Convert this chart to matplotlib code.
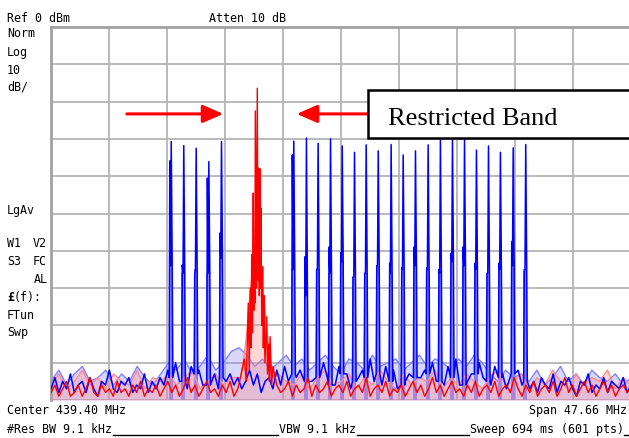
import numpy as np
import matplotlib.pyplot as plt
from matplotlib.patches import Rectangle

# sweep settings (Center 439.40 MHz, Span 47.66 MHz)
FREQ_START = 415.57
FREQ_STOP = 463.23

# blue trace: channel spikes
BLUE_FREQS = [425.41, 426.44, 427.46, 428.50, 429.54, 435.48, 436.52, 437.48, 438.50,
              439.46, 440.47, 441.43, 442.42, 443.48, 444.47, 445.48, 446.52, 447.53,
              448.52, 449.51, 450.49, 451.48, 452.46, 453.51, 454.54]
BLUE_PEAK = [-30.7, -31.8, -32.5, -36.1, -30.7, -30.6, -29.8, -31.2, -30.0, -31.9, -33.6,
             -31.6, -33.2, -31.5, -34.3, -33.2, -31.6, -30.0, -30.0, -30.0, -33.0, -31.9,
             -33.6, -32.4, -31.5]
BLUE_SUB = [-35.9, -63.8, -66.0, -40.5, -55.2, -34.3, -61.6, -65.0, -59.0, -60.5, -67.0,
            -66.0, -64.0, -63.3, -64.6, -59.0, -64.6, -65.0, -60.6, -59.0, -63.3, -66.0,
            -63.3, -57.5, -65.6]
BLUE_HOLD = [-64, -66, -65, -66, -62, -65, -72, -65, -66, -63, -67, -66, -64, -66, -65,
             -64, -65, -66, -63, -64, -65, -66, -65, -64, -65]
BLUE_BASE = [-94, -95, -93, -96, -94, -93, -95, -94, -96, -93, -95, -94, -93, -95, -96,
             -94, -93, -95, -94, -96, -93, -95, -94, -93, -95]

# blue noise floor (dark trace, 150 pts) and light trace (75 pts)
BLUE_FLOOR = [
    -97, -94, -98, -95, -97, -93, -98, -96, -95, -98, -94, -97, -99, -95, -96,
    -92, -97, -98, -95, -96, -94, -98, -96, -97, -93, -98, -95, -97, -94, -96,
    -92, -96, -90, -95, -93, -97, -91, -95, -92, -96, -90, -94, -93, -97, -91,
    -95, -93, -96, -94, -97, -95, -92, -96, -93, -98, -95, -94, -97, -92, -96,
    -91, -95, -90, -94, -92, -96, -89, -95, -93, -97, -90, -94, -92, -96, -91,
    -95, -93, -97, -90, -94, -92, -96, -89, -95, -93, -96, -91, -94, -92, -97,
    -90, -95, -93, -96, -91, -94, -92, -97, -90, -95, -93, -96, -91, -94, -89,
    -96, -92, -95, -93, -97, -90, -94, -92, -96, -91, -95, -93, -97, -90, -94,
    -92, -96, -93, -97, -95, -98, -94, -96, -97, -93, -98, -95, -96, -94, -97,
    -99, -95, -96, -93, -98, -96, -97, -94, -98, -95, -96, -97, -94, -98, -96]
LIGHT_BLUE_FLOOR = [
    -95, -92, -96, -93, -91, -95, -94, -92, -96, -93, -95, -91, -94, -96, -93,
    -90, -92, -89, -93, -91, -88, -92, -90, -87, -86, -88, -91, -89, -92, -90,
    -88, -91, -89, -92, -90, -88, -91, -93, -89, -90, -92, -88, -91, -90, -89,
    -92, -90, -88, -91, -89, -90, -92, -89, -91, -88, -90, -93, -95, -92, -94,
    -93, -95, -92, -96, -94, -91, -95, -93, -96, -92, -94, -95, -93, -96, -94]

# red trace: emission in the restricted band
RED_PEAK_FREQ = [431.20, 431.45, 431.62, 431.78, 431.86, 431.94, 432.02, 432.06, 432.12,
                 432.19, 432.24, 432.27, 432.32, 432.36, 432.41, 432.46, 432.52, 432.58,
                 432.64, 432.69, 432.74, 432.78, 432.82, 432.89, 432.96, 433.02, 433.07,
                 433.15, 433.29, 433.36, 433.45, 433.52, 433.57, 433.70, 433.81]
RED_PEAK_LEVEL = [-93, -89, -95, -74, -92, -70, -86, -61, -82, -44.5, -76, -60, -74, -22.5,
                  -45.5, -70, -16.4, -68, -37.8, -72, -38, -70, -48.5, -80, -64.3, -86, -72,
                  -90, -77.7, -93, -85, -95, -83, -96, -91]
PINK_PEAK_FREQ = [431.15, 431.40, 431.60, 431.80, 432.00, 432.20, 432.40, 432.55, 432.70,
                  432.90, 433.10, 433.30, 433.55, 433.85]
PINK_PEAK_LEVEL = [-94, -89, -84, -76, -69, -63, -60, -59, -62, -68, -74, -81, -88, -94]

RED_FLOOR = [
    -98, -96, -99, -97, -95, -99, -98, -96, -99, -97, -94, -98, -99, -96, -98,
    -97, -99, -95, -98, -97, -99, -96, -98, -95, -99, -97, -98, -96, -99, -97,
    -95, -98, -96, -99, -97, -94, -98, -96, -99, -97, -95, -98, -97, -99, -96,
    -98, -95, -99, -97, -96, -98, -95, -97, -96, -98, -94, -97, -99, -96, -98,
    -97, -95, -99, -96, -98, -97, -94, -99, -96, -98, -97, -95, -99, -97, -96,
    -98, -95, -99, -97, -96, -98, -94, -99, -97, -96, -98, -95, -99, -97, -98,
    -96, -99, -97, -95, -98, -96, -99, -97, -94, -98, -96, -99, -97, -95, -98,
    -97, -99, -96, -98, -95, -99, -97, -96, -98, -95, -99, -97, -96, -98, -94,
    -97, -99, -96, -98, -95, -99, -97, -96, -98, -95, -99, -97, -94, -98, -96,
    -99, -97, -95, -98, -96, -99, -97, -95, -98, -96, -99, -97, -96, -98, -97]
PINK_FLOOR = [
    -96, -93, -97, -95, -92, -96, -94, -97, -93, -95, -96, -92, -97, -94, -95,
    -93, -96, -94, -92, -97, -95, -93, -96, -94, -95, -92, -96, -94, -97, -93,
    -95, -96, -93, -97, -94, -92, -96, -95, -93, -97, -94, -96, -92, -95, -97,
    -93, -96, -94, -95, -92, -97, -94, -96, -93, -95, -97, -94, -92, -96, -95,
    -93, -97, -94, -96, -92, -95, -97, -93, -96, -94, -95, -92, -97, -94, -96]

W, H = 629, 438


def fpos(x, y):
    # pixel position (from top-left) -> figure fraction
    return x / W, 1 - y / H


def merge(floor, f_extra, v_extra, lo, hi):
    ff = np.linspace(FREQ_START, FREQ_STOP, len(floor))
    vv = np.array(floor, dtype=float)
    keep = np.ones(len(ff), bool)
    for a, b in zip(lo, hi):
        keep &= (ff < a) | (ff > b)
    f = np.concatenate([ff[keep], f_extra])
    v = np.concatenate([vv[keep], v_extra])
    order = np.argsort(f)
    return f[order], v[order]


# blue spike shapes
bf, bv = [], []
for c, b, s, h, p in zip(BLUE_FREQS, BLUE_BASE, BLUE_SUB, BLUE_HOLD, BLUE_PEAK):
    bf += [c - 0.13, c - 0.08, c - 0.02, c + 0.04, c + 0.12, c + 0.17]
    bv += [b, s, h, p, h, b]
blue_f, blue_v = merge(BLUE_FLOOR, bf, bv,
                       [c - 0.2 for c in BLUE_FREQS], [c + 0.2 for c in BLUE_FREQS])
red_f, red_v = merge(RED_FLOOR, RED_PEAK_FREQ, RED_PEAK_LEVEL,
                     [RED_PEAK_FREQ[0] - 0.1], [RED_PEAK_FREQ[-1] + 0.1])
pink_f, pink_v = merge(PINK_FLOOR, PINK_PEAK_FREQ, PINK_PEAK_LEVEL,
                       [PINK_PEAK_FREQ[0] - 0.2], [PINK_PEAK_FREQ[-1] + 0.2])
lb_f = np.linspace(FREQ_START, FREQ_STOP, len(LIGHT_BLUE_FLOOR))

fig = plt.figure(figsize=(W / 100, H / 100), dpi=100)
ax = fig.add_axes([51 / W, 38 / H, 580 / W, 373 / H])
ax.set_xlim(FREQ_START, FREQ_STOP)
ax.set_ylim(-100, 0)
ax.set_xticks(np.linspace(FREQ_START, FREQ_STOP, 11))
ax.set_yticks(np.arange(-100, 1, 10))
ax.tick_params(length=0, labelbottom=False, labelleft=False)
ax.grid(color='#b4b4b4', lw=1.3)
ax.set_axisbelow(True)
for side in ['right', 'bottom']:
    ax.spines[side].set_visible(False)
for side in ['left', 'top']:
    ax.spines[side].set_color('#a0a0a0')
    ax.spines[side].set_linewidth(2)

# light (second) traces
ax.fill_between(lb_f, -100, LIGHT_BLUE_FLOOR, color='#8080ff', alpha=0.3, lw=0, zorder=2)
ax.plot(lb_f, LIGHT_BLUE_FLOOR, color='#8080ff', lw=1.0, zorder=2)
ax.bar(BLUE_FREQS, np.array(BLUE_HOLD) + 100, bottom=-100, width=0.32,
       color='#8080ff', lw=0, zorder=2)
ax.fill_between(pink_f, -100, pink_v, color='#ff8a8a', alpha=0.35, lw=0, zorder=3)
ax.plot(pink_f, pink_v, color='#ff8a8a', lw=1.0, zorder=3)

# dark traces
ax.plot(blue_f, blue_v, color='#0000ff', lw=1.1, zorder=4)
ax.plot(red_f, red_v, color='#ff0000', lw=1.0, zorder=5)

# restricted band arrows and label
arrow = dict(arrowstyle='-|>,head_length=0.62,head_width=0.27', color='#ff0000',
             lw=2.2, mutation_scale=20, shrinkA=0, shrinkB=0)
ax.annotate('', xy=(429.73, -23.3), xytext=(421.8, -23.3), arrowprops=arrow, zorder=6)
ax.annotate('', xy=(435.76, -23.3), xytext=(441.6, -23.3), arrowprops=arrow, zorder=6)
ax.add_patch(Rectangle((441.59, -29.8), 25, 12.9, facecolor='white', edgecolor='black',
                       lw=1.8, clip_on=False, zorder=7))
ax.text(443.26, -26.3, 'Restricted Band', family='Liberation Serif', fontsize=19,
        va='baseline', ha='left', zorder=8)

mono = dict(family='DejaVu Sans Mono', fontsize=8.4, va='baseline', color='black')
labels = [
    (7, 21.7, 'Ref 0 dBm'), (209, 21.7, 'Atten 10 dB'),
    (7, 37.3, 'Norm'), (7, 56, 'Log'), (7, 74, '10'), (7, 90.7, 'dB/'),
    (7, 214.3, 'LgAv'), (7, 247.3, 'W1'), (33, 247.3, 'V2'),
    (7, 265, 'S3'), (33, 265, 'FC'), (34, 283.3, 'AL'),
    (14, 301, '(f):'), (7, 319.3, 'FTun'), (7, 336, 'Swp'),
    (7, 414, 'Center 439.40 MHz'), (7, 433, '#Res BW 9.1 kHz'),
    (279, 433, 'VBW 9.1 kHz'), (470, 433, 'Sweep 694 ms (601 pts)'),
]
for x, y, s in labels:
    fig.text(*fpos(x, y), s, **mono)
fig.text(*fpos(7, 301), '£', fontweight='bold', **mono)
fig.text(*fpos(626.7, 414), 'Span 47.66 MHz', ha='right', **mono)

for x0, x1 in [(113, 278), (357, 469), (624, 629)]:
    fig.add_artist(plt.Line2D([x0 / W, x1 / W], [1 - 434.5 / H] * 2, color='black', lw=1))

fig.savefig('out.png', dpi=100)
